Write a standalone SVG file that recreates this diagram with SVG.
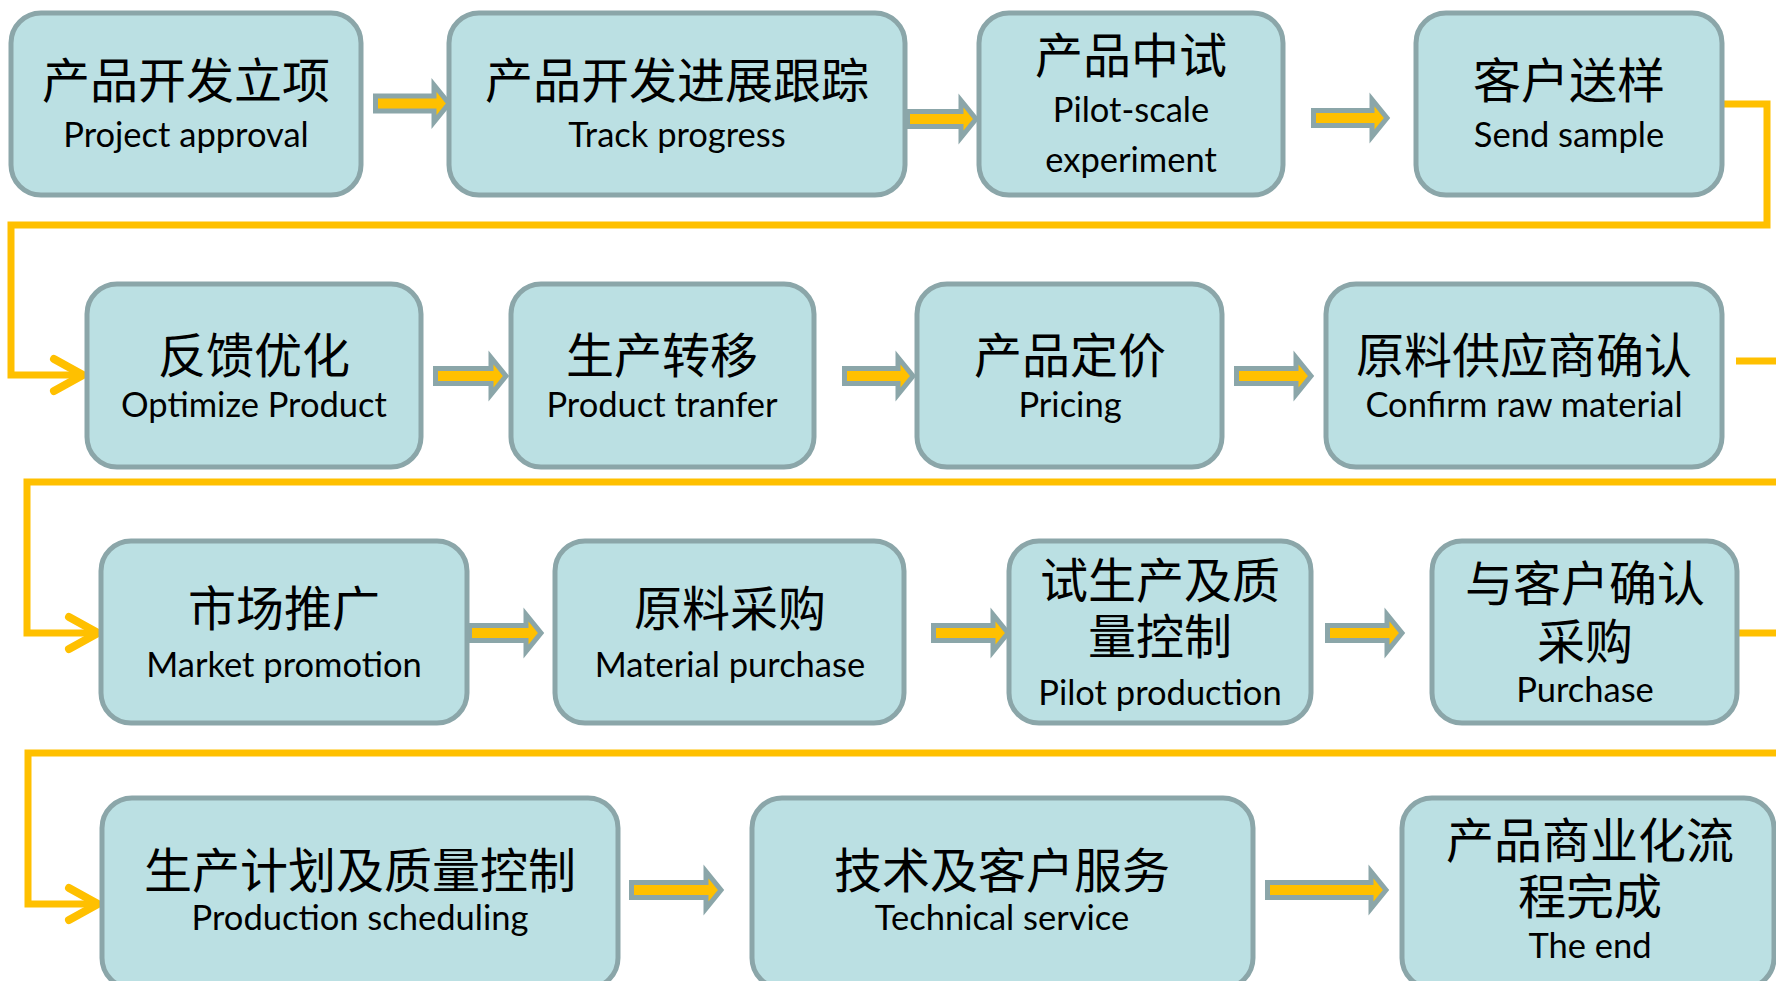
<svg xmlns="http://www.w3.org/2000/svg" width="1776" height="981" viewBox="0 0 1776 981">
<defs>
<style>
.box{fill:#BBE0E3;stroke:#8BA6A9;stroke-width:5}
.cn{font-family:"Noto Sans CJK SC","Noto Sans",sans-serif;font-size:48px;fill:#000;text-anchor:middle}
.en{font-family:Lato,"Liberation Sans",sans-serif;font-size:34.5px;fill:#000;text-anchor:middle}
.blk{fill:#FFC000;stroke:#8BA6A9;stroke-width:5;stroke-linejoin:miter}
.con{fill:none;stroke:#FFC000;stroke-width:7;stroke-linejoin:miter}
</style>
<marker id="chev" markerUnits="userSpaceOnUse" markerWidth="50" markerHeight="50" viewBox="-40 -25 50 50" refX="0" refY="0" orient="auto" overflow="visible">
<path d="M-29,-16 L0,0 L-29,16" fill="none" stroke="#FFC000" stroke-width="8" stroke-linecap="round" stroke-linejoin="round"/>
</marker>
</defs>
<rect width="1776" height="981" fill="#FFFFFF"/>

<g id="connectors">
<path class="con" d="M1722,104 H1767 V225 H11 V375 H83" marker-end="url(#chev)"/>
<path class="con" d="M1736,361 H1800 V482 H27 V633 H98" marker-end="url(#chev)"/>
<path class="con" d="M1737,633 H1800 V753 H28 V904 H98" marker-end="url(#chev)"/>
<polygon class="blk" points="375.5,96 434,96 434,85 449,103.5 434,122 434,111 375.5,111"/>
<polygon class="blk" points="907.5,111.5 961,111.5 961,100.5 976,119 961,137.5 961,126.5 907.5,126.5"/>
<polygon class="blk" points="1313.5,110.5 1372,110.5 1372,99.5 1387,118 1372,136.5 1372,125.5 1313.5,125.5"/>
<polygon class="blk" points="435.5,368.5 491,368.5 491,357.5 506,376 491,394.5 491,383.5 435.5,383.5"/>
<polygon class="blk" points="844.5,368.5 898,368.5 898,357.5 913,376 898,394.5 898,383.5 844.5,383.5"/>
<polygon class="blk" points="1236.5,368.5 1296,368.5 1296,357.5 1311,376 1296,394.5 1296,383.5 1236.5,383.5"/>
<polygon class="blk" points="469.5,625.5 526,625.5 526,614.5 541,633 526,651.5 526,640.5 469.5,640.5"/>
<polygon class="blk" points="933.5,625.5 993,625.5 993,614.5 1008,633 993,651.5 993,640.5 933.5,640.5"/>
<polygon class="blk" points="1327.5,625.5 1387,625.5 1387,614.5 1402,633 1387,651.5 1387,640.5 1327.5,640.5"/>
<polygon class="blk" points="631.5,882.5 706,882.5 706,871.5 721,890 706,908.5 706,897.5 631.5,897.5"/>
<polygon class="blk" points="1267.5,882.5 1371,882.5 1371,871.5 1386,890 1371,908.5 1371,897.5 1267.5,897.5"/>
</g>

<g id="n1"><rect class="box" x="11" y="13" width="350" height="182" rx="30"/>
<text class="cn" x="186" y="98">产品开发立项</text><text class="en" x="186" y="147">Project approval</text></g>
<g id="n2"><rect class="box" x="449" y="13" width="456" height="182" rx="30"/>
<text class="cn" x="677" y="98">产品开发进展跟踪</text><text class="en" x="677" y="147">Track progress</text></g>
<g id="n3"><rect class="box" x="979" y="13" width="304" height="182" rx="30"/>
<text class="cn" x="1131" y="73">产品中试</text><text class="en" x="1131" y="122">Pilot-scale</text><text class="en" x="1131" y="172">experiment</text></g>
<g id="n4"><rect class="box" x="1416" y="13" width="306" height="182" rx="30"/>
<text class="cn" x="1569" y="98">客户送样</text><text class="en" x="1569" y="147">Send sample</text></g>

<g id="n5"><rect class="box" x="87" y="284" width="334" height="183" rx="30"/>
<text class="cn" x="254" y="373">反馈优化</text><text class="en" x="254" y="417">Optimize Product</text></g>
<g id="n6"><rect class="box" x="511" y="284" width="303" height="183" rx="30"/>
<text class="cn" x="662" y="373">生产转移</text><text class="en" x="662" y="417">Product tranfer</text></g>
<g id="n7"><rect class="box" x="917" y="284" width="305" height="183" rx="30"/>
<text class="cn" x="1070" y="373">产品定价</text><text class="en" x="1070" y="417">Pricing</text></g>
<g id="n8"><rect class="box" x="1326" y="284" width="396" height="183" rx="30"/>
<text class="cn" x="1524" y="373">原料供应商确认</text><text class="en" x="1524" y="417">Confirm raw material</text></g>

<g id="n9"><rect class="box" x="101" y="541" width="366" height="182" rx="30"/>
<text class="cn" x="284" y="626">市场推广</text><text class="en" x="284" y="677">Market promotion</text></g>
<g id="n10"><rect class="box" x="555" y="541" width="349" height="182" rx="30"/>
<text class="cn" x="730" y="626">原料采购</text><text class="en" x="730" y="677">Material purchase</text></g>
<g id="n11"><rect class="box" x="1009" y="541" width="302" height="182" rx="30"/>
<text class="cn" x="1160" y="598">试生产及质</text><text class="cn" x="1160" y="654">量控制</text><text class="en" x="1160" y="705">Pilot production</text></g>
<g id="n12"><rect class="box" x="1432" y="541" width="305" height="182" rx="30"/>
<text class="cn" x="1585" y="601">与客户确认</text><text class="cn" x="1585" y="659">采购</text><text class="en" x="1585" y="702">Purchase</text></g>

<g id="n13"><rect class="box" x="102" y="798" width="516" height="190" rx="30"/>
<text class="cn" x="360" y="888">生产计划及质量控制</text><text class="en" x="360" y="930">Production scheduling</text></g>
<g id="n14"><rect class="box" x="752" y="798" width="501" height="190" rx="30"/>
<text class="cn" x="1002" y="888">技术及客户服务</text><text class="en" x="1002" y="930">Technical service</text></g>
<g id="n15"><rect class="box" x="1402" y="798" width="372" height="190" rx="30"/>
<text class="cn" x="1590" y="858">产品商业化流</text><text class="cn" x="1590" y="914">程完成</text><text class="en" x="1590" y="958">The end</text></g>
</svg>
